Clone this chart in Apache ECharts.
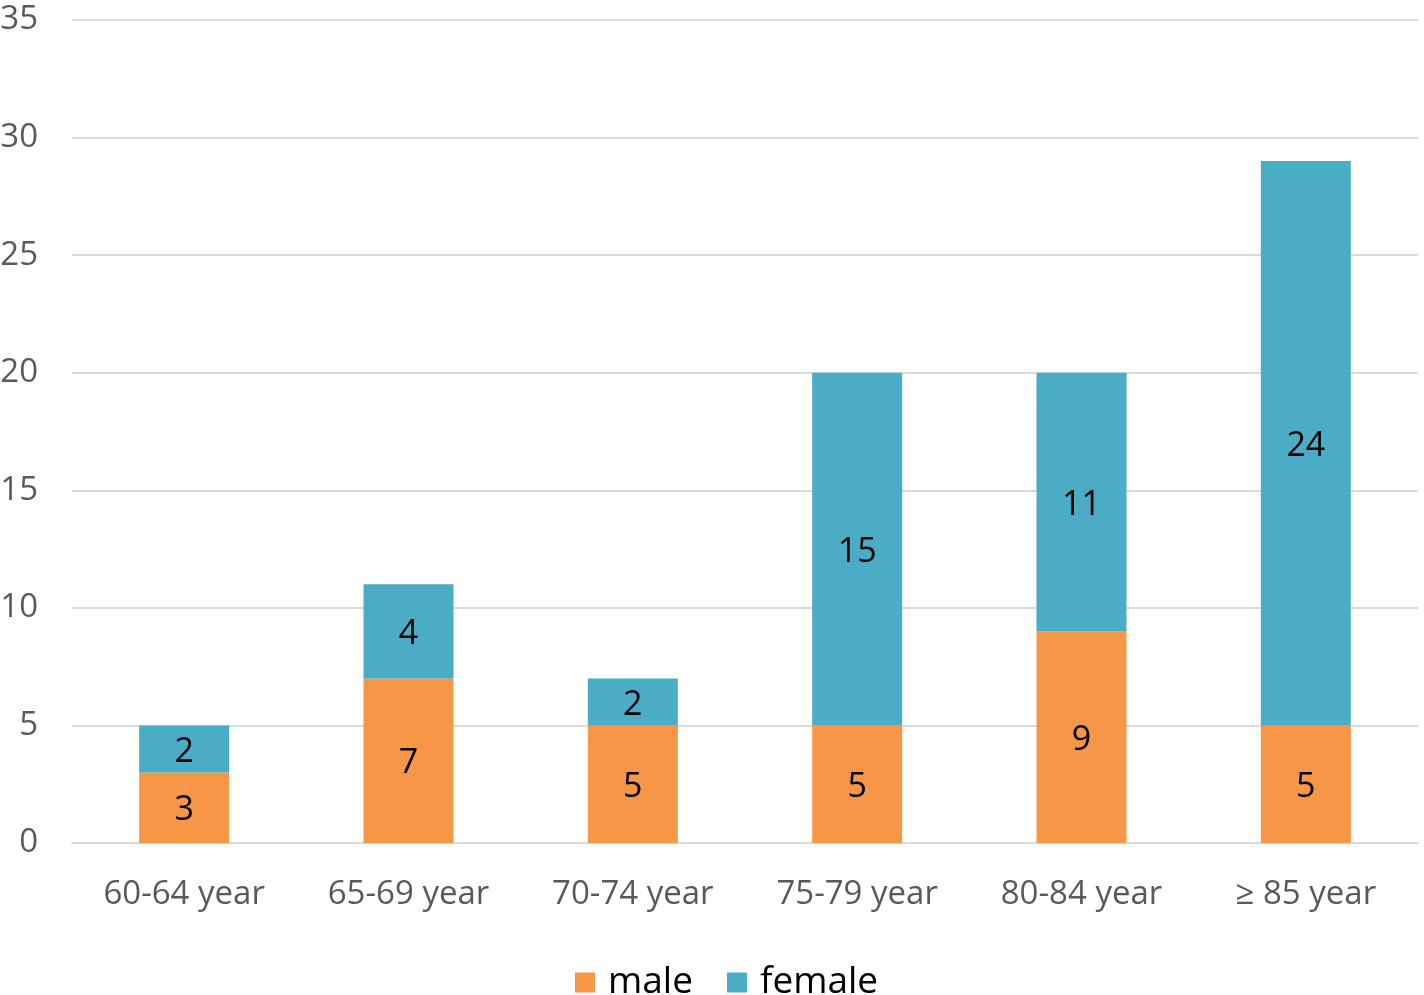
<!DOCTYPE html>
<html><head><meta charset="utf-8">
<script src="https://cdn.jsdelivr.net/npm/echarts@6/dist/echarts.min.js"></script>
<style>html,body{margin:0;padding:0;background:#fff}#c{width:1424px;height:995px}</style>
</head><body><div id="c"></div>
<script>
const categories = ['60-64 year','65-69 year','70-74 year','75-79 year','80-84 year','\u2265 85 year'];
const male = [3,7,5,5,9,5];
const female = [2,4,2,15,11,24];
const yTicks = [0,5,10,15,20,25,30,35];
const FONT = '"Open Sans", sans-serif';
const chart = echarts.init(document.getElementById('c'), null, {renderer:'canvas'});
const lbl = {show:true, position:'inside', color:'#000', fontSize:34, fontFamily:FONT, offset:[0,3]};
chart.setOption({
  animation:false,
  grid:{left:72,right:6,top:20,bottom:152,containLabel:false,outerBoundsMode:'none'},
  legend:{bottom:-11,left:570,itemWidth:20,itemHeight:20,itemGap:34,
    textStyle:{fontSize:37,color:'#000',fontFamily:FONT,padding:[0,0,0,8]},
    data:['male','female'], icon:'rect'},
  xAxis:{type:'category',data:categories,
    axisLine:{show:true,lineStyle:{color:'#d9d9d9',width:2}},
    axisTick:{show:false},
    axisLabel:{fontSize:33,color:'#595959',fontFamily:FONT,margin:35}},
  yAxis:{type:'value',min:yTicks[0],max:yTicks[yTicks.length-1],interval:5,
    axisLine:{show:false},axisTick:{show:false},
    splitLine:{lineStyle:{color:'#d9d9d9',width:2}},
    axisLabel:{fontSize:33,color:'#595959',fontFamily:FONT,margin:34}},
  series:[
    {name:'male',type:'bar',stack:'a',data:male,barWidth:90,itemStyle:{color:'#F79646'},label:lbl},
    {name:'female',type:'bar',stack:'a',data:female,barWidth:90,itemStyle:{color:'#4BACC6'},label:lbl}
  ]
});
</script></body></html>
